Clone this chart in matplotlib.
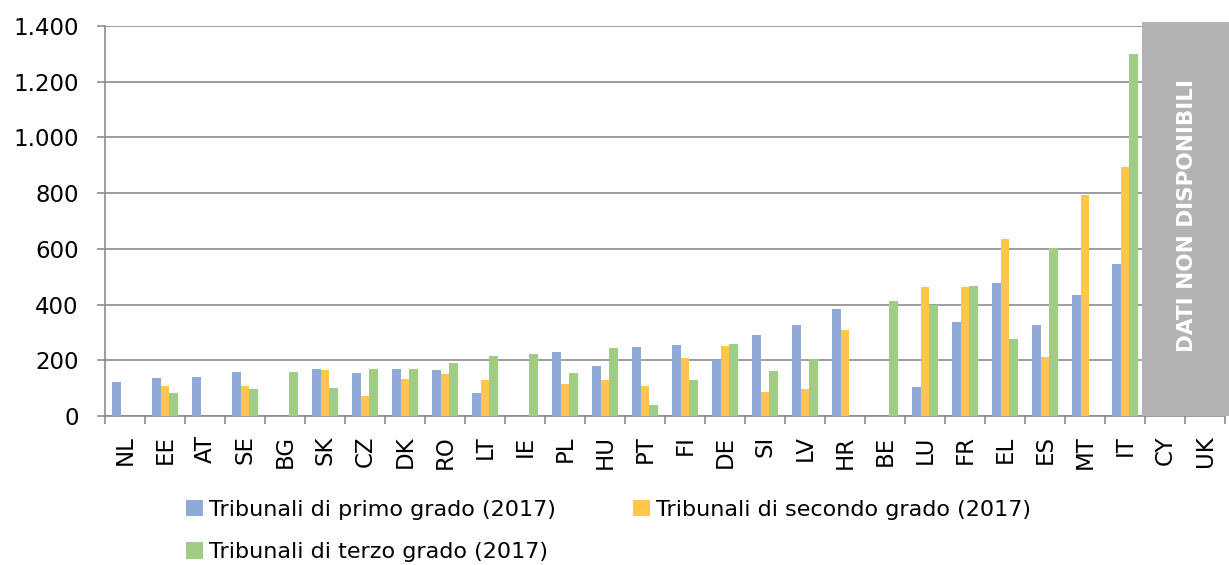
import matplotlib

matplotlib.use("Agg")
import matplotlib.pyplot as plt
import numpy as np
from matplotlib.ticker import FuncFormatter, MultipleLocator

COUNTRIES = ["NL", "EE", "AT", "SE", "BG", "SK", "CZ", "DK", "RO", "LT", "IE",
             "PL", "HU", "PT", "FI", "DE", "SI", "LV", "HR", "BE", "LU", "FR",
             "EL", "ES", "MT", "IT", "CY", "UK"]
NA = np.nan
FIRST = [121, 138, 139, 157, NA, 169, 154, 170, 165, 83, NA,
         230, 178, 248, 255, 201, 290, 328, 384, NA, 105, 337,
         477, 327, 433, 546, NA, NA]
SECOND = [NA, 109, NA, 108, NA, 166, 72, 134, 151, 128, NA,
          116, 129, 109, 209, 251, 86, 97, 308, NA, 463, 463,
          637, 212, 793, 893, NA, NA]
THIRD = [NA, 83, NA, 97, 159, 102, 169, 169, 190, 215, 223,
         156, 243, 41, 129, 258, 162, 203, NA, 412, 398, 468,
         276, 602, NA, 1298, NA, NA]
LABELS = ["Tribunali di primo grado (2017)",
          "Tribunali di secondo grado (2017)",
          "Tribunali di terzo grado (2017)"]
COLORS = ["#8FAAD6", "#FFC84D", "#A0CC85"]
MISSING = ["CY", "UK"]

plt.rcParams.update({
    "font.family": ["DejaVu Sans"],
})

fig = plt.figure(figsize=(12.29, 5.65), dpi=100)
ax = fig.add_axes([105 / 1229, 1 - 416 / 565, 1120 / 1229, 390 / 565])

x = np.arange(len(COUNTRIES))
w = 0.217
handles = []
for i, (vals, color, label) in enumerate(zip([FIRST, SECOND, THIRD], COLORS, LABELS)):
    h = ax.bar(x + (i - 1) * w, vals, width=w, color=color, label=label,
               linewidth=0, zorder=3)
    handles.append(h)

ax.set_xlim(-0.5, len(COUNTRIES) - 0.5)
ax.set_ylim(0, 1400)
ax.yaxis.set_major_locator(MultipleLocator(200))
ax.yaxis.set_major_formatter(FuncFormatter(lambda v, _: f"{int(v):,}".replace(",", ".")))
ax.grid(axis="y", color="#8C8C8C", linewidth=1.2, zorder=0)
for side in ("top", "right"):
    ax.spines[side].set_visible(False)
for side in ("left", "bottom"):
    ax.spines[side].set_color("#8C8C8C")
    ax.spines[side].set_linewidth(1.2)

ax.set_xticks(x)
ax.set_xticklabels(COUNTRIES, rotation=90, fontsize=16.5)
ax.set_xticks(np.arange(len(COUNTRIES) + 1) - 0.5, minor=True)
ax.tick_params(axis="x", which="major", length=0, pad=14)
ax.tick_params(axis="x", which="minor", length=6, width=1.2, color="#8C8C8C")
ax.tick_params(axis="y", length=6, width=1.2, color="#8C8C8C", pad=13, labelsize=16.5)

# grey band for countries without data
i0 = COUNTRIES.index(MISSING[0])
i1 = COUNTRIES.index(MISSING[-1])
ax.axvspan(i0 - 0.58, i1 + 0.62, ymin=0, ymax=1.01, color="#B3B3B3",
           clip_on=False, zorder=4, linewidth=0)
ax.text((i0 + i1) / 2 + 0.05, 718, "DATI NON DISPONIBILI", rotation=90,
        ha="center", va="center", color="white", fontsize=15.5,
        fontweight="bold", zorder=5)

order = [handles[0], handles[2], handles[1]]
fig.legend(order, [LABELS[0], LABELS[2], LABELS[1]], ncol=2, frameon=False,
           loc="upper left", bbox_to_anchor=(186 / 1229, 1 - 500 / 565),
           borderaxespad=0, borderpad=0, fontsize=16, handlelength=0.75,
           handleheight=0.75, handletextpad=0.3, labelspacing=1.0,
           columnspacing=3.45)

fig.savefig("out.png", dpi=100)
